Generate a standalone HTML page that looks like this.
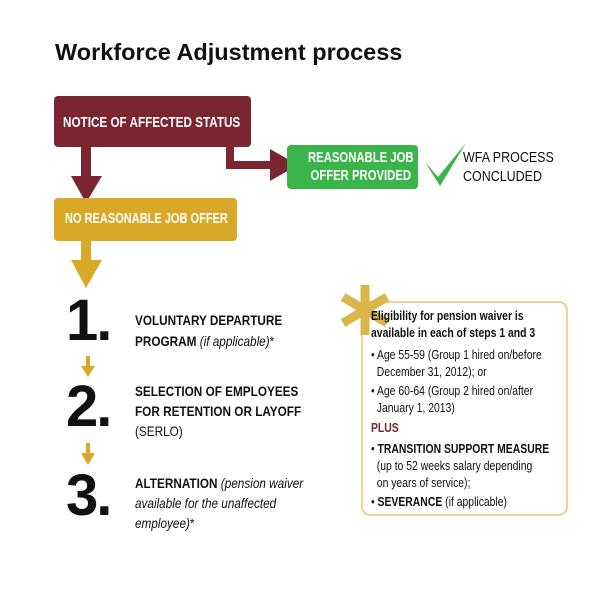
<!DOCTYPE html>
<html><head><meta charset="utf-8"><style>
body{margin:0;background:#fff;}
#c{position:relative;width:612px;height:608px;overflow:hidden;background:#fff;font-family:"Liberation Sans",sans-serif;}
.a{position:absolute;}
.n{position:absolute;transform:scaleX(.8);transform-origin:0 0;white-space:nowrap;}
.big{position:absolute;font-weight:bold;font-size:58px;line-height:58px;color:#111;letter-spacing:-2px;}
</style></head><body><div id="c">
<div class="a" style="left:55px;top:39px;font-size:23.5px;font-weight:bold;color:#111;letter-spacing:0px">Workforce Adjustment process</div>

<svg class="a" style="left:0;top:0" width="612" height="608">
 <rect x="54" y="96" width="197" height="51" rx="4" fill="#7a2530"/>
 <rect x="81" y="147" width="10" height="30" fill="#7a2530"/>
 <polygon points="71,176 102,176 86,203" fill="#7a2530"/>
 <rect x="226" y="147" width="8" height="22" fill="#7a2530"/>
 <rect x="226" y="161" width="46" height="8" fill="#7a2530"/>
 <polygon points="270,149 270,181 298,165" fill="#7a2530"/>
 <rect x="287" y="145" width="131" height="44" rx="4" fill="#3bb54a"/>
 <path d="M425,162 L438,177 L466,143 L440,186 Z" fill="#3bb54a"/>
 <rect x="54" y="198" width="183" height="43" rx="4" fill="#d9a827"/>
 <rect x="81" y="241" width="10" height="20" fill="#d9a827"/>
 <polygon points="71,260 102,260 86,288" fill="#d9a827"/>
 <rect x="86" y="356" width="4" height="12" fill="#d9a827"/>
 <polygon points="81,366 95,366 88,377" fill="#d9a827"/>
 <rect x="86" y="443" width="4" height="12" fill="#d9a827"/>
 <polygon points="81,453 95,453 88,465" fill="#d9a827"/>
 <rect x="362" y="302" width="205" height="213" rx="8" fill="#fff" stroke="#e8c56a" stroke-width="1.5"/>
 <g stroke="#d9b54a" stroke-width="9" stroke-linecap="butt">
  <line x1="365" y1="285" x2="365" y2="335"/>
  <line x1="343" y1="297" x2="387" y2="323"/>
  <line x1="387" y1="297" x2="343" y2="323"/>
 </g>
</svg>

<div class="n" style="left:63px;top:114px;color:#fff;font-weight:bold;font-size:15px;transform:scaleX(.78)">NOTICE OF AFFECTED STATUS</div>
<div class="n" style="left:308px;top:149px;color:#fff;font-weight:bold;font-size:14.5px;line-height:18px;text-align:center;transform:scaleX(.78)">REASONABLE JOB<br>OFFER PROVIDED</div>
<div class="n" style="left:463px;top:149px;color:#111;font-size:14.5px;line-height:19px;transform:scaleX(.86)">WFA PROCESS<br>CONCLUDED</div>
<div class="n" style="left:65px;top:211px;color:#fff;font-weight:bold;font-size:14.5px;transform:scaleX(.76)">NO REASONABLE JOB OFFER</div>

<div class="big" style="left:66px;top:292px">1.</div>
<div class="big" style="left:66px;top:378px">2.</div>
<div class="big" style="left:66px;top:467px">3.</div>

<div class="n" style="left:135px;top:310px;font-size:14px;line-height:21px;color:#111;transform:scaleX(.84)"><b>VOLUNTARY DEPARTURE</b><br><b>PROGRAM</b> <i>(if applicable)</i>*</div>
<div class="n" style="left:135px;top:381px;font-size:14px;line-height:20px;color:#111;transform:scaleX(.84)"><b>SELECTION OF EMPLOYEES</b><br><b>FOR RETENTION OR LAYOFF</b><br>(SERLO)</div>
<div class="n" style="left:135px;top:473px;font-size:14px;line-height:20px;color:#111;transform:scaleX(.84)"><b>ALTERNATION</b> <i>(pension waiver<br>available for the unaffected<br>employee)</i>*</div>

<div class="n" style="left:371px;top:307px;font-size:13px;line-height:17px;color:#111"><b>Eligibility for pension waiver is<br>available in each of steps 1 and 3</b></div>
<div class="n" style="left:371px;top:346px;font-size:13px;line-height:17px;color:#111">• Age 55-59 (Group 1 hired on/before<br>&nbsp;&nbsp;December 31, 2012); or</div>
<div class="n" style="left:371px;top:382px;font-size:13px;line-height:17px;color:#111">• Age 60-64 (Group 2 hired on/after<br>&nbsp;&nbsp;January 1, 2013)</div>
<div class="n" style="left:371px;top:419px;font-size:13px;line-height:17px;color:#7a2530;font-weight:bold">PLUS</div>
<div class="n" style="left:371px;top:440px;font-size:13px;line-height:17px;color:#111">• <b>TRANSITION SUPPORT MEASURE</b><br>&nbsp;&nbsp;(up to 52 weeks salary depending<br>&nbsp;&nbsp;on years of service);</div>
<div class="n" style="left:371px;top:493px;font-size:13px;line-height:17px;color:#111">• <b>SEVERANCE</b> (if applicable)</div>
</div></body></html>
